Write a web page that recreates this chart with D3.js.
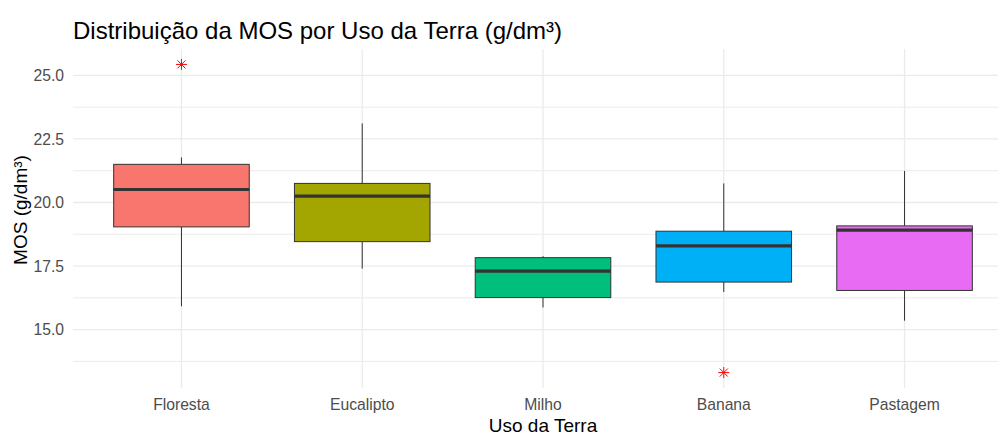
<!DOCTYPE html>
<html>
<head>
<meta charset="utf-8">
<script src="https://cdn.jsdelivr.net/npm/d3@7"></script>
<style>
  body { margin: 0; background: #fff; }
  text { font-family: "Liberation Sans", Arial, sans-serif; }
</style>
</head>
<body>
<svg id="chart"></svg>
<script>
// values
const categories = ["Floresta", "Eucalipto", "Milho", "Banana", "Pastagem"];
const lowerWhisker = [15.92, 17.40, 15.87, 16.48, 15.35];
const q1 = [19.04, 18.46, 16.26, 16.87, 16.54];
const median = [20.51, 20.25, 17.30, 18.29, 18.91];
const q3 = [21.50, 20.75, 17.83, 18.87, 19.08];
const upperWhisker = [21.77, 23.11, 17.89, 20.75, 21.24];
const outlierCats = ["Floresta", "Banana"];
const outlierValues = [25.43, 13.31];
const yTicks = [15, 17.5, 20, 22.5, 25];
const yMinor = [13.75, 16.25, 18.75, 21.25, 23.75];
const fills = ["#F8766D", "#A3A500", "#00BF7D", "#00B0F6", "#E76BF3"];

const width = 998, height = 435;
const margin = { top: 49, right: -15, bottom: 47, left: 73 };

const svg = d3.select("#chart")
    .attr("width", width)
    .attr("height", height);

svg.append("rect").attr("width", width).attr("height", height).attr("fill", "#fff");

const boxes = categories.map((c, i) => ({
    cat: c, lo: lowerWhisker[i], q1: q1[i], med: median[i], q3: q3[i], hi: upperWhisker[i], fill: fills[i]
}));
const outliers = outlierCats.map((c, i) => ({ cat: c, value: outlierValues[i] }));

// y range like ggplot: 5% expansion of data range
const allVals = lowerWhisker.concat(upperWhisker, outlierValues);
const [vmin, vmax] = d3.extent(allVals);
const pad = (vmax - vmin) * 0.05;

const y = d3.scaleLinear()
    .domain([vmin - pad, vmax + pad])
    .range([height - margin.bottom, margin.top]);

const x = d3.scalePoint()
    .domain(categories)
    .range([margin.left, width - margin.right])
    .padding(0.6);

const boxW = x.step() * 0.75;

// grid
const grid = svg.append("g");
grid.selectAll(".minor")
    .data(yMinor)
    .join("line")
    .attr("x1", margin.left).attr("x2", width)
    .attr("y1", d => y(d)).attr("y2", d => y(d))
    .attr("stroke", "#EBEBEB").attr("stroke-width", 1);
grid.selectAll(".major")
    .data(yTicks)
    .join("line")
    .attr("x1", margin.left).attr("x2", width)
    .attr("y1", d => y(d)).attr("y2", d => y(d))
    .attr("stroke", "#EBEBEB").attr("stroke-width", 1.3);
grid.selectAll(".vmajor")
    .data(categories)
    .join("line")
    .attr("x1", d => x(d)).attr("x2", d => x(d))
    .attr("y1", margin.top).attr("y2", height - margin.bottom)
    .attr("stroke", "#EBEBEB").attr("stroke-width", 1.3);

// boxes
const g = svg.append("g")
    .selectAll("g")
    .data(boxes)
    .join("g");

g.append("line")
    .attr("x1", d => x(d.cat)).attr("x2", d => x(d.cat))
    .attr("y1", d => y(d.hi)).attr("y2", d => y(d.q3))
    .attr("stroke", "#333").attr("stroke-width", 1);
g.append("line")
    .attr("x1", d => x(d.cat)).attr("x2", d => x(d.cat))
    .attr("y1", d => y(d.q1)).attr("y2", d => y(d.lo))
    .attr("stroke", "#333").attr("stroke-width", 1);

g.append("rect")
    .attr("x", d => x(d.cat) - boxW / 2)
    .attr("width", boxW)
    .attr("y", d => y(d.q3))
    .attr("height", d => y(d.q1) - y(d.q3))
    .attr("fill", d => d.fill)
    .attr("stroke", "#333")
    .attr("stroke-width", 1);

g.append("line")
    .attr("x1", d => x(d.cat) - boxW / 2).attr("x2", d => x(d.cat) + boxW / 2)
    .attr("y1", d => y(d.med)).attr("y2", d => y(d.med))
    .attr("stroke", "#333").attr("stroke-width", 3.2);

// outliers: asterisk (pch 8)
const star = "M0,-5.5V5.5M-5.5,0H5.5M-4,-4L4,4M-4,4L4,-4";
svg.append("g")
    .selectAll("path")
    .data(outliers)
    .join("path")
    .attr("transform", d => `translate(${x(d.cat)},${y(d.value)})`)
    .attr("d", star)
    .attr("fill", "none")
    .attr("stroke", "red")
    .attr("stroke-width", 1);

// tick labels
svg.append("g")
    .selectAll("text")
    .data(yTicks)
    .join("text")
    .attr("x", 64)
    .attr("y", d => y(d))
    .attr("dy", "0.36em")
    .attr("text-anchor", "end")
    .attr("fill", "#4D4D4D")
    .style("font-size", "15.7px")
    .text(d => d3.format(".1f")(d));

svg.append("g")
    .selectAll("text")
    .data(categories)
    .join("text")
    .attr("x", d => x(d))
    .attr("y", 410)
    .attr("text-anchor", "middle")
    .attr("fill", "#4D4D4D")
    .style("font-size", "15.7px")
    .text(d => d);

// axis titles
svg.append("text")
    .attr("x", (margin.left + width - margin.right) / 2)
    .attr("y", 431.5)
    .attr("text-anchor", "middle")
    .attr("fill", "#000")
    .style("font-size", "19px")
    .text("Uso da Terra");

svg.append("text")
    .attr("transform", "translate(26.5,210) rotate(-90)")
    .attr("text-anchor", "middle")
    .attr("fill", "#000")
    .style("font-size", "19px")
    .text("MOS (g/dm³)");

// title
svg.append("text")
    .attr("x", 73)
    .attr("y", 39)
    .attr("fill", "#000")
    .style("font-size", "24px")
    .text("Distribuição da MOS por Uso da Terra (g/dm³)");
</script>
</body>
</html>
